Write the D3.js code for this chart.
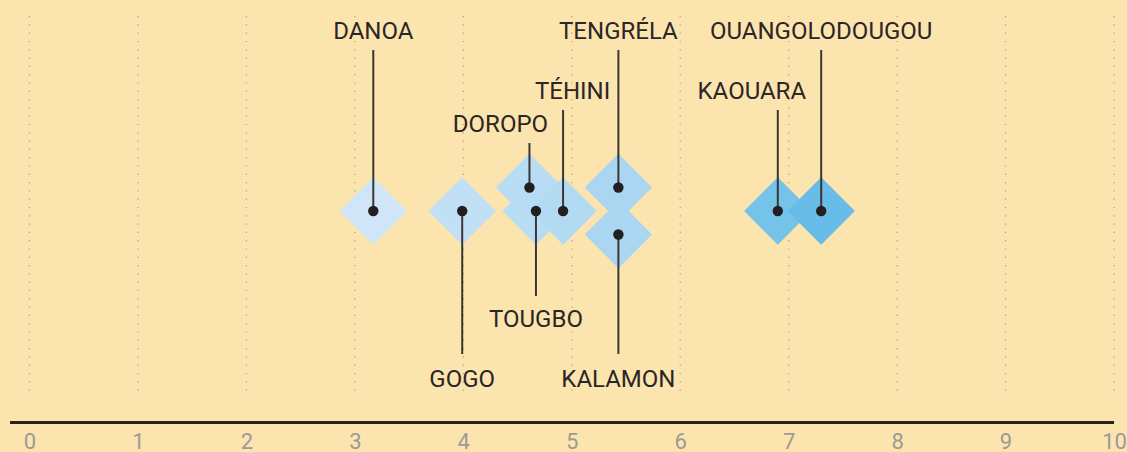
<!DOCTYPE html>
<html>
<head>
<meta charset="utf-8">
<script src="https://cdn.jsdelivr.net/npm/d3@7"></script>
<style>
  html, body { margin: 0; padding: 0; background: #fce4ae; }
  svg { display: block; }
  text { font-family: Roboto, "Open Sans", sans-serif; }
</style>
</head>
<body>
<svg id="chart" width="1127" height="452"></svg>
<script>
// ---- data ----
const villages = ['DANOA', 'GOGO', 'DOROPO', 'TOUGBO', 'TÉHINI', 'TENGRÉLA', 'KALAMON', 'KAOUARA', 'OUANGOLODOUGOU'];
const values   = [3.17, 3.99, 4.61, 4.67, 4.92, 5.43, 5.43, 6.90, 7.30];
const stackLevel = [0, 0, 1, 0, 0, 1, -1, 0, 0];
const tickValues = [0, 1, 2, 3, 4, 5, 6, 7, 8, 9, 10];
const tickLabels = ['0', '1', '2', '3', '4', '5', '6', '7', '8', '9', '10'];

// ---- layout (label placement) ----
const labelLayout = {
  'DANOA':          { baseline: 39,  lineEnd: 50,  dx: 0 },
  'TENGRÉLA':       { baseline: 39,  lineEnd: 50,  dx: 0 },
  'OUANGOLODOUGOU': { baseline: 39,  lineEnd: 50,  dx: 0 },
  'TÉHINI':         { baseline: 99,  lineEnd: 110, dx: 9.5 },
  'KAOUARA':        { baseline: 99,  lineEnd: 110, dx: -26 },
  'DOROPO':         { baseline: 132, lineEnd: 143, dx: -29 },
  'TOUGBO':         { baseline: 327, lineEnd: 296, dx: 0 },
  'GOGO':           { baseline: 387, lineEnd: 354, dx: 0 },
  'KALAMON':        { baseline: 387, lineEnd: 354, dx: 0 }
};

const W = 1127, H = 452;
const svg = d3.select('#chart');

const x = d3.scaleLinear().domain([0, 10]).range([29.5, 1114]);
const y = d3.scaleLinear().domain([-1, 1]).range([234.5, 187.5]);
const color = d3.scaleLinear().domain([3, 5.5, 7.3]).range(['#d2e7f8', '#a9d6f1', '#68bde8']);
const half = 33.7;

const data = villages.map((v, i) => ({ name: v, value: values[i], level: stackLevel[i] }));

// background
svg.append('rect').attr('width', W).attr('height', H).attr('fill', '#fce4ae');

// dotted gridlines
svg.append('g').selectAll('line').data(tickValues).join('line')
  .attr('x1', d => x(d)).attr('x2', d => x(d))
  .attr('y1', 16).attr('y2', 394)
  .attr('stroke', '#a99f8b').attr('stroke-width', 1.2)
  .attr('stroke-dasharray', '1.2 7.1');

// axis line
svg.append('line')
  .attr('x1', 10).attr('x2', x(10))
  .attr('y1', 422.5).attr('y2', 422.5)
  .attr('stroke', '#27221e').attr('stroke-width', 3);

// tick labels via d3 axis
const axis = d3.axisBottom(x).tickValues(tickValues).tickFormat((d, i) => tickLabels[i]).tickSize(0).tickPadding(0);
const ax = svg.append('g').attr('transform', 'translate(0,433)').call(axis);
ax.select('.domain').remove();
ax.selectAll('text')
  .attr('dy', null).attr('y', 0)
  .attr('dominant-baseline', 'hanging')
  .attr('font-family', 'Roboto, sans-serif')
  .attr('font-size', 22)
  .attr('fill', '#9c9a96');

// diamonds
const sorted = data.slice().sort((a, b) => a.value - b.value);
svg.append('g').selectAll('path').data(sorted).join('path')
  .attr('d', d => {
    const cx = x(d.value), cy = y(d.level);
    return `M${cx},${cy - half}L${cx + half},${cy}L${cx},${cy + half}L${cx - half},${cy}Z`;
  })
  .attr('fill', d => color(d.value));

// leader lines
svg.append('g').selectAll('line').data(data).join('line')
  .attr('x1', d => x(d.value)).attr('x2', d => x(d.value))
  .attr('y1', d => y(d.level))
  .attr('y2', d => labelLayout[d.name].lineEnd)
  .attr('stroke', '#3a3636').attr('stroke-width', 2);

// dots
svg.append('g').selectAll('circle').data(data).join('circle')
  .attr('cx', d => x(d.value)).attr('cy', d => y(d.level))
  .attr('r', 5.2).attr('fill', '#231f20');

// labels
svg.append('g').selectAll('text').data(data).join('text')
  .attr('x', d => x(d.value) + labelLayout[d.name].dx)
  .attr('y', d => labelLayout[d.name].baseline)
  .attr('text-anchor', 'middle')
  .attr('font-size', 24)
  .attr('fill', '#2a2626')
  .text(d => d.name);
</script>
</body>
</html>
